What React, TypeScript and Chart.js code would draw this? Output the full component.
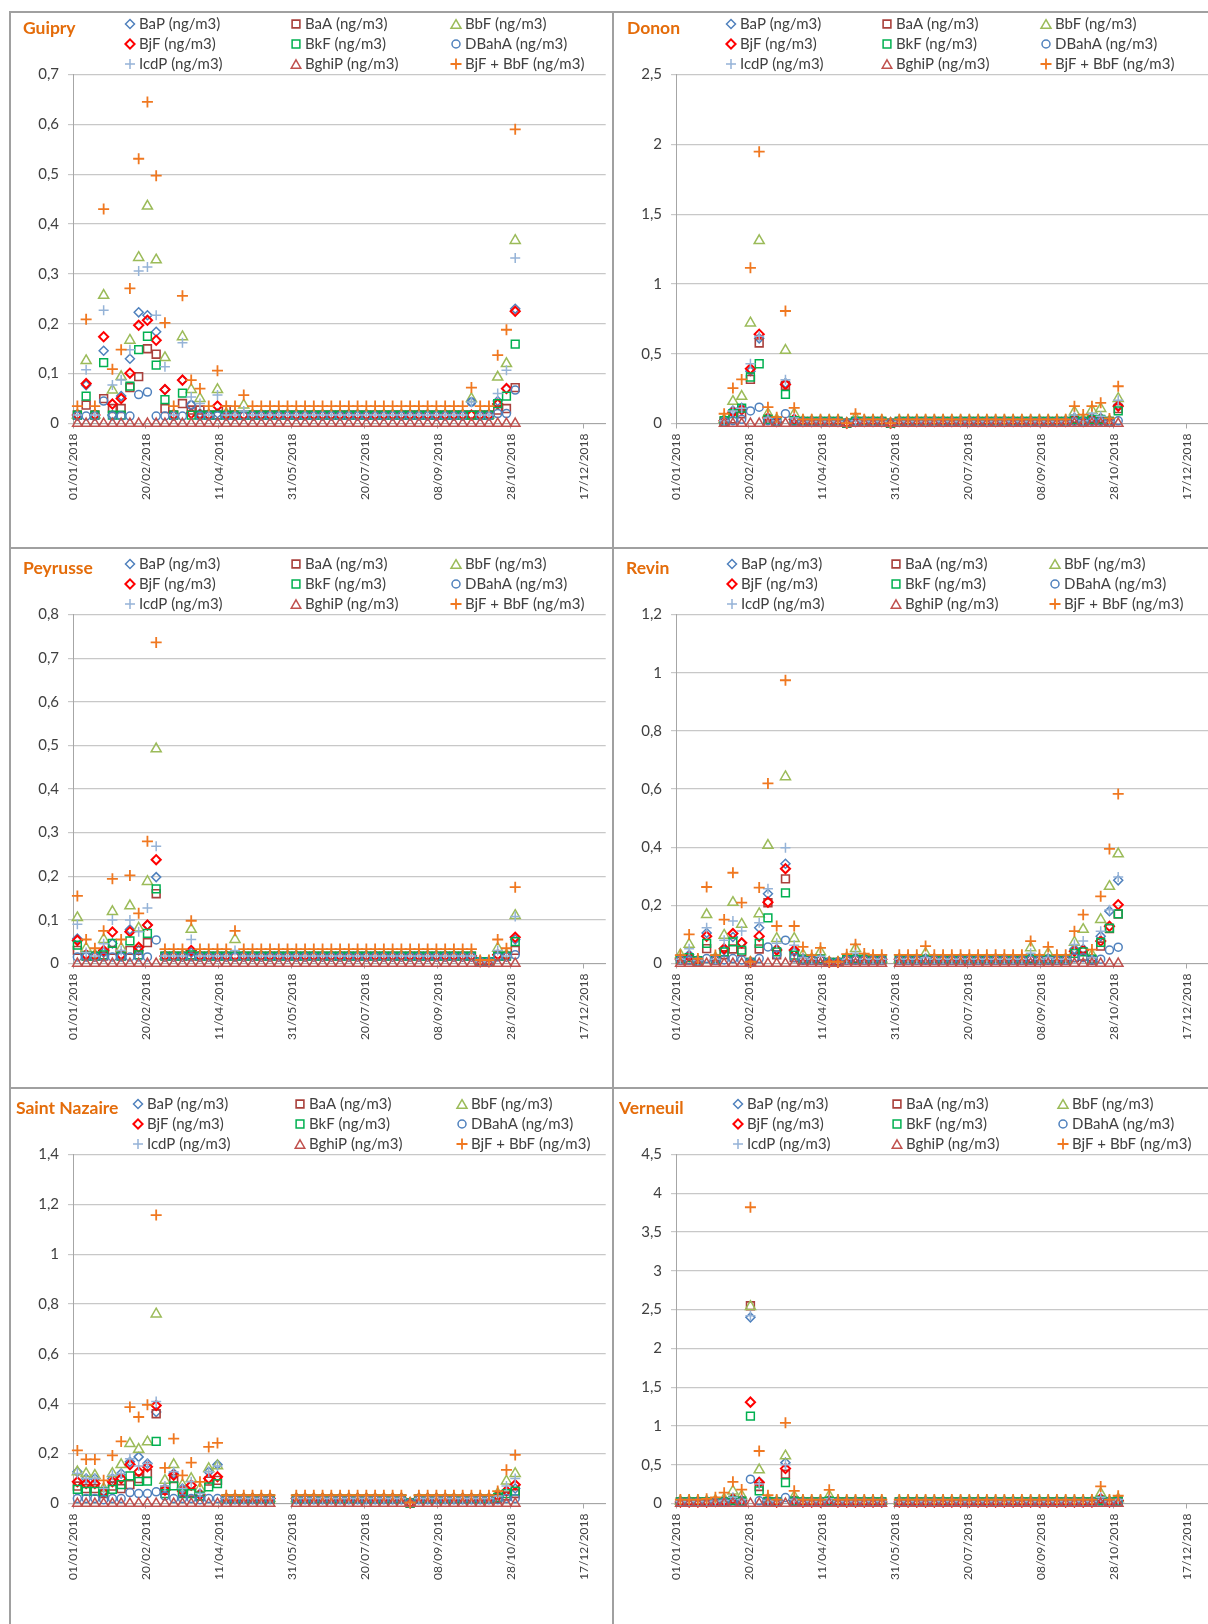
import React, { useEffect, useRef } from 'react';
import { Chart, registerables } from 'chart.js';

Chart.register(...registerables);

// ---------- categories / ticks ----------
const DAYS = [
  3, 9, 15, 21, 27, 33, 39, 45, 51, 57,
  63, 69, 75, 81, 87, 93, 99, 105, 111, 117,
  123, 129, 135, 141, 147, 153, 159, 165, 171, 177,
  183, 189, 195, 201, 207, 213, 219, 225, 231, 237,
  243, 249, 255, 261, 267, 273, 279, 285, 291, 297,
  303,
];
const TICK_DAYS = [0, 50, 100, 150, 200, 250, 300, 350];
const TICK_LABELS = ['01/01/2018', '20/02/2018', '11/04/2018', '31/05/2018', '20/07/2018', '08/09/2018', '28/10/2018', '17/12/2018'];
const SERIES_NAMES = ['BaP (ng/m3)', 'BaA (ng/m3)', 'BbF (ng/m3)', 'BjF (ng/m3)', 'BkF (ng/m3)', 'DBahA (ng/m3)', 'IcdP (ng/m3)', 'BghiP (ng/m3)', 'BjF + BbF (ng/m3)'];

// ---------- Guipry ----------
const guipryBaP = [
  0.017, 0.077, 0.017, 0.146, 0.017, 0.055, 0.13, 0.223, 0.217, 0.184,
  0.068, 0.017, 0.087, 0.037, 0.02, 0.017, 0.02, 0.017, 0.017, 0.017,
  0.017, 0.017, 0.017, 0.017, 0.017, 0.017, 0.017, 0.017, 0.017, 0.017,
  0.017, 0.017, 0.017, 0.017, 0.017, 0.017, 0.017, 0.017, 0.017, 0.017,
  0.017, 0.017, 0.017, 0.017, 0.017, 0.043, 0.017, 0.017, 0.045, 0.07,
  0.23];
const guipryBaA = [
  0.017, 0.037, 0.017, 0.05, 0.03, 0.03, 0.072, 0.094, 0.15, 0.139,
  0.03, 0.017, 0.04, 0.027, 0.027, 0.017, 0.017, 0.027, 0.017, 0.017,
  0.017, 0.017, 0.017, 0.017, 0.017, 0.017, 0.017, 0.017, 0.017, 0.017,
  0.017, 0.017, 0.017, 0.017, 0.017, 0.017, 0.017, 0.017, 0.017, 0.017,
  0.017, 0.017, 0.017, 0.017, 0.017, 0.017, 0.017, 0.017, 0.027, 0.03,
  0.072];
const guipryBbF = [
  0.017, 0.126, 0.017, 0.257, 0.067, 0.094, 0.167, 0.333, 0.436, 0.328,
  0.132, 0.017, 0.174, 0.068, 0.05, 0.017, 0.068, 0.02, 0.017, 0.037,
  0.017, 0.017, 0.017, 0.017, 0.017, 0.017, 0.017, 0.017, 0.017, 0.017,
  0.017, 0.017, 0.017, 0.017, 0.017, 0.017, 0.017, 0.017, 0.017, 0.017,
  0.017, 0.017, 0.017, 0.017, 0.017, 0.05, 0.017, 0.017, 0.093, 0.12,
  0.367];
const guipryBjF = [
  0.017, 0.08, 0.017, 0.174, 0.039, 0.05, 0.101, 0.197, 0.207, 0.167,
  0.068, 0.017, 0.087, 0.02, 0.017, 0.017, 0.035, 0.017, 0.017, 0.017,
  0.017, 0.017, 0.017, 0.017, 0.017, 0.017, 0.017, 0.017, 0.017, 0.017,
  0.017, 0.017, 0.017, 0.017, 0.017, 0.017, 0.017, 0.017, 0.017, 0.017,
  0.017, 0.017, 0.017, 0.017, 0.017, 0.017, 0.017, 0.017, 0.039, 0.07,
  0.225];
const guipryBkF = [
  0.017, 0.055, 0.017, 0.122, 0.017, 0.017, 0.075, 0.148, 0.175, 0.117,
  0.048, 0.017, 0.061, 0.017, 0.017, 0.017, 0.017, 0.017, 0.017, 0.017,
  0.017, 0.017, 0.017, 0.017, 0.017, 0.017, 0.017, 0.017, 0.017, 0.017,
  0.017, 0.017, 0.017, 0.017, 0.017, 0.017, 0.017, 0.017, 0.017, 0.017,
  0.017, 0.017, 0.017, 0.017, 0.017, 0.017, 0.017, 0.017, 0.04, 0.055,
  0.159];
const guipryDBahA = [
  0.015, 0.015, 0.015, 0.045, 0.015, 0.015, 0.015, 0.058, 0.063, 0.015,
  0.015, 0.015, 0.015, 0.037, 0.015, 0.015, 0.015, 0.015, 0.015, 0.015,
  0.015, 0.015, 0.015, 0.015, 0.015, 0.015, 0.015, 0.015, 0.015, 0.015,
  0.015, 0.015, 0.015, 0.015, 0.015, 0.015, 0.015, 0.015, 0.015, 0.015,
  0.015, 0.015, 0.015, 0.015, 0.015, 0.043, 0.015, 0.015, 0.02, 0.02,
  0.067];
const guipryIcdP = [
  0.017, 0.108, 0.017, 0.227, 0.077, 0.087, 0.148, 0.306, 0.314, 0.217,
  0.114, 0.017, 0.162, 0.053, 0.04, 0.017, 0.057, 0.017, 0.017, 0.025,
  0.017, 0.017, 0.017, 0.017, 0.017, 0.017, 0.017, 0.017, 0.017, 0.017,
  0.017, 0.017, 0.017, 0.017, 0.017, 0.017, 0.017, 0.017, 0.017, 0.017,
  0.017, 0.017, 0.017, 0.017, 0.017, 0.043, 0.017, 0.017, 0.06, 0.107,
  0.332];
const guipryBghiP = [
  0, 0, 0, 0, 0, 0, 0, 0, 0, 0,
  0, 0, 0, 0, 0, 0, 0, 0, 0, 0,
  0, 0, 0, 0, 0, 0, 0, 0, 0, 0,
  0, 0, 0, 0, 0, 0, 0, 0, 0, 0,
  0, 0, 0, 0, 0, 0, 0, 0, 0, 0,
  0];
const guipryBjFBbF = [
  0.035, 0.209, 0.035, 0.43, 0.109, 0.148, 0.271, 0.531, 0.645, 0.497,
  0.202, 0.035, 0.256, 0.087, 0.07, 0.035, 0.106, 0.035, 0.035, 0.057,
  0.035, 0.035, 0.035, 0.035, 0.035, 0.035, 0.035, 0.035, 0.035, 0.035,
  0.035, 0.035, 0.035, 0.035, 0.035, 0.035, 0.035, 0.035, 0.035, 0.035,
  0.035, 0.035, 0.035, 0.035, 0.035, 0.072, 0.035, 0.035, 0.137, 0.188,
  0.59];

// ---------- Donon ----------
const dononBaP = [
  null, null, null, null, null, 0.02, 0.093, 0.112, 0.375, 0.61,
  0.03, 0.015, 0.29, 0.03, 0.015, 0.015, 0.015, 0.015, 0.015, 0.002,
  0.015, 0.015, 0.015, 0.015, 0.002, 0.015, 0.015, 0.015, 0.015, 0.015,
  0.015, 0.015, 0.015, 0.015, 0.015, 0.015, 0.015, 0.015, 0.015, 0.015,
  0.015, 0.015, 0.015, 0.015, 0.015, 0.04, 0.015, 0.04, 0.04, 0.015,
  0.13];
const dononBaA = [
  null, null, null, null, null, 0.015, 0.033, 0.07, 0.316, 0.577,
  0.03, 0.015, 0.273, 0.02, 0.015, 0.015, 0.015, 0.015, 0.015, 0.002,
  0.015, 0.015, 0.015, 0.015, 0.002, 0.015, 0.015, 0.015, 0.015, 0.015,
  0.015, 0.015, 0.015, 0.015, 0.015, 0.015, 0.015, 0.015, 0.015, 0.015,
  0.015, 0.015, 0.015, 0.015, 0.015, 0.025, 0.015, 0.025, 0.025, 0.015,
  0.107];
const dononBbF = [
  null, null, null, null, null, 0.03, 0.158, 0.194, 0.72, 1.31,
  0.07, 0.03, 0.524, 0.07, 0.02, 0.02, 0.02, 0.02, 0.02, 0.002,
  0.04, 0.02, 0.02, 0.02, 0.002, 0.02, 0.02, 0.02, 0.02, 0.02,
  0.02, 0.02, 0.02, 0.02, 0.02, 0.02, 0.02, 0.02, 0.02, 0.02,
  0.02, 0.02, 0.02, 0.02, 0.02, 0.083, 0.03, 0.095, 0.107, 0.02,
  0.179];
const dononBjF = [
  null, null, null, null, null, 0.02, 0.081, 0.098, 0.392, 0.64,
  0.04, 0.015, 0.28, 0.03, 0.015, 0.015, 0.015, 0.015, 0.015, 0.002,
  0.015, 0.015, 0.015, 0.015, 0.002, 0.015, 0.015, 0.015, 0.015, 0.015,
  0.015, 0.015, 0.015, 0.015, 0.015, 0.015, 0.015, 0.015, 0.015, 0.015,
  0.015, 0.015, 0.015, 0.015, 0.015, 0.03, 0.015, 0.03, 0.03, 0.015,
  0.124];
const dononBkF = [
  null, null, null, null, null, 0.02, 0.07, 0.11, 0.333, 0.428,
  0.03, 0.015, 0.208, 0.02, 0.015, 0.015, 0.015, 0.015, 0.015, 0.002,
  0.015, 0.015, 0.015, 0.015, 0.002, 0.015, 0.015, 0.015, 0.015, 0.015,
  0.015, 0.015, 0.015, 0.015, 0.015, 0.015, 0.015, 0.015, 0.015, 0.015,
  0.015, 0.015, 0.015, 0.015, 0.015, 0.03, 0.015, 0.03, 0.03, 0.015,
  0.09];
const dononDBahA = [
  null, null, null, null, null, 0.015, 0.02, 0.03, 0.09, 0.117,
  0.02, 0.015, 0.07, 0.015, 0.012, 0.012, 0.012, 0.012, 0.012, 0.002,
  0.012, 0.012, 0.012, 0.012, 0.002, 0.012, 0.012, 0.012, 0.012, 0.012,
  0.012, 0.012, 0.012, 0.012, 0.012, 0.012, 0.012, 0.012, 0.012, 0.012,
  0.012, 0.012, 0.012, 0.012, 0.012, 0.015, 0.012, 0.015, 0.015, 0.012,
  0.019];
const dononIcdP = [
  null, null, null, null, null, 0.02, 0.09, 0.11, 0.428, 0.625,
  0.04, 0.02, 0.313, 0.04, 0.015, 0.015, 0.015, 0.015, 0.015, 0.002,
  0.02, 0.015, 0.015, 0.015, 0.002, 0.015, 0.015, 0.015, 0.015, 0.015,
  0.015, 0.015, 0.015, 0.015, 0.015, 0.015, 0.015, 0.015, 0.015, 0.015,
  0.015, 0.015, 0.015, 0.015, 0.015, 0.06, 0.02, 0.071, 0.052, 0.015,
  0.167];
const dononBghiP = [
  null, null, null, null, null, 0, 0, 0, 0, 0,
  0, 0, 0, 0, 0, 0, 0, 0, 0, 0,
  0, 0, 0, 0, 0, 0, 0, 0, 0, 0,
  0, 0, 0, 0, 0, 0, 0, 0, 0, 0,
  0, 0, 0, 0, 0, 0, 0, 0, 0, 0,
  0];
const dononBjFBbF = [
  null, null, null, null, null, 0.07, 0.254, 0.316, 1.115, 1.947,
  0.117, 0.045, 0.806, 0.112, 0.03, 0.03, 0.03, 0.03, 0.03, 0.003,
  0.07, 0.03, 0.03, 0.03, 0.003, 0.03, 0.03, 0.03, 0.03, 0.03,
  0.03, 0.03, 0.03, 0.03, 0.03, 0.03, 0.03, 0.03, 0.03, 0.03,
  0.03, 0.03, 0.03, 0.03, 0.03, 0.124, 0.064, 0.124, 0.148, 0.036,
  0.267];

// ---------- Peyrusse ----------
const peyrusseBaP = [
  0.057, 0.017, 0.017, 0.025, 0.046, 0.017, 0.078, 0.03, 0.088, 0.198,
  0.017, 0.017, 0.017, 0.025, 0.017, 0.017, 0.017, 0.017, 0.017, 0.017,
  0.017, 0.017, 0.017, 0.017, 0.017, 0.017, 0.017, 0.017, 0.017, 0.017,
  0.017, 0.017, 0.017, 0.017, 0.017, 0.017, 0.017, 0.017, 0.017, 0.017,
  0.017, 0.017, 0.017, 0.017, 0.017, 0.017, 0.004, 0.004, 0.02, 0.017,
  0.055];
const peyrusseBaA = [
  0.03, 0.017, 0.017, 0.017, 0.03, 0.017, 0.03, 0.03, 0.048, 0.16,
  0.017, 0.017, 0.017, 0.017, 0.017, 0.017, 0.017, 0.017, 0.017, 0.017,
  0.017, 0.017, 0.017, 0.017, 0.017, 0.017, 0.017, 0.017, 0.017, 0.017,
  0.017, 0.017, 0.017, 0.017, 0.017, 0.017, 0.017, 0.017, 0.017, 0.017,
  0.017, 0.017, 0.017, 0.017, 0.017, 0.017, 0.004, 0.004, 0.017, 0.017,
  0.03];
const peyrusseBbF = [
  0.105, 0.035, 0.02, 0.055, 0.119, 0.035, 0.132, 0.081, 0.188, 0.492,
  0.017, 0.017, 0.017, 0.078, 0.017, 0.017, 0.017, 0.017, 0.055, 0.017,
  0.017, 0.017, 0.017, 0.017, 0.017, 0.017, 0.017, 0.017, 0.017, 0.017,
  0.017, 0.017, 0.017, 0.017, 0.017, 0.017, 0.017, 0.017, 0.017, 0.017,
  0.017, 0.017, 0.017, 0.017, 0.017, 0.017, 0.004, 0.004, 0.035, 0.02,
  0.11];
const peyrusseBjF = [
  0.053, 0.02, 0.017, 0.03, 0.072, 0.02, 0.073, 0.037, 0.088, 0.238,
  0.017, 0.017, 0.017, 0.03, 0.017, 0.017, 0.017, 0.017, 0.017, 0.017,
  0.017, 0.017, 0.017, 0.017, 0.017, 0.017, 0.017, 0.017, 0.017, 0.017,
  0.017, 0.017, 0.017, 0.017, 0.017, 0.017, 0.017, 0.017, 0.017, 0.017,
  0.017, 0.017, 0.017, 0.017, 0.017, 0.017, 0.004, 0.004, 0.02, 0.017,
  0.06];
const peyrusseBkF = [
  0.042, 0.017, 0.017, 0.02, 0.046, 0.017, 0.052, 0.02, 0.069, 0.171,
  0.017, 0.017, 0.017, 0.02, 0.017, 0.017, 0.017, 0.017, 0.017, 0.017,
  0.017, 0.017, 0.017, 0.017, 0.017, 0.017, 0.017, 0.017, 0.017, 0.017,
  0.017, 0.017, 0.017, 0.017, 0.017, 0.017, 0.017, 0.017, 0.017, 0.017,
  0.017, 0.017, 0.017, 0.017, 0.017, 0.017, 0.004, 0.004, 0.017, 0.017,
  0.05];
const peyrusseDBahA = [
  0.015, 0.015, 0.015, 0.015, 0.015, 0.015, 0.015, 0.015, 0.015, 0.054,
  0.015, 0.015, 0.015, 0.015, 0.015, 0.015, 0.015, 0.015, 0.015, 0.015,
  0.015, 0.015, 0.015, 0.015, 0.015, 0.015, 0.015, 0.015, 0.015, 0.015,
  0.015, 0.015, 0.015, 0.015, 0.015, 0.015, 0.015, 0.015, 0.015, 0.015,
  0.015, 0.015, 0.015, 0.015, 0.015, 0.015, 0.004, 0.004, 0.015, 0.015,
  0.02];
const peyrusseIcdP = [
  0.09, 0.025, 0.017, 0.045, 0.1, 0.03, 0.1, 0.073, 0.127, 0.269,
  0.017, 0.017, 0.017, 0.055, 0.017, 0.017, 0.017, 0.017, 0.03, 0.017,
  0.017, 0.017, 0.017, 0.017, 0.017, 0.017, 0.017, 0.017, 0.017, 0.017,
  0.017, 0.017, 0.017, 0.017, 0.017, 0.017, 0.017, 0.017, 0.017, 0.017,
  0.017, 0.017, 0.017, 0.017, 0.017, 0.017, 0.004, 0.004, 0.03, 0.017,
  0.108];
const peyrusseBghiP = [
  0, 0, 0, 0, 0, 0, 0, 0, 0, 0,
  0, 0, 0, 0, 0, 0, 0, 0, 0, 0,
  0, 0, 0, 0, 0, 0, 0, 0, 0, 0,
  0, 0, 0, 0, 0, 0, 0, 0, 0, 0,
  0, 0, 0, 0, 0, 0, 0, 0, 0, 0,
  0];
const peyrusseBjFBbF = [
  0.155, 0.055, 0.035, 0.075, 0.194, 0.055, 0.202, 0.115, 0.28, 0.736,
  0.033, 0.033, 0.033, 0.098, 0.033, 0.033, 0.033, 0.033, 0.075, 0.033,
  0.033, 0.033, 0.033, 0.033, 0.033, 0.033, 0.033, 0.033, 0.033, 0.033,
  0.033, 0.033, 0.033, 0.033, 0.033, 0.033, 0.033, 0.033, 0.033, 0.033,
  0.033, 0.033, 0.033, 0.033, 0.033, 0.033, 0.008, 0.008, 0.055, 0.035,
  0.175];

// ---------- Revin ----------
const revinBaP = [
  0.015, 0.03, 0.01, 0.105, 0.015, 0.046, 0.091, 0.07, 0.004, 0.123,
  0.24, 0.05, 0.343, 0.04, 0.015, 0.015, 0.015, 0.004, 0.004, 0.015,
  0.02, 0.015, 0.015, 0.015, null, 0.015, 0.015, 0.015, 0.015, 0.015,
  0.015, 0.015, 0.015, 0.015, 0.015, 0.015, 0.015, 0.015, 0.015, 0.015,
  0.02, 0.015, 0.015, 0.015, 0.015, 0.05, 0.05, 0.015, 0.094, 0.18,
  0.286];
const revinBaA = [
  0.012, 0.012, 0.008, 0.051, 0.012, 0.03, 0.05, 0.04, 0.004, 0.05,
  0.209, 0.03, 0.291, 0.02, 0.012, 0.012, 0.012, 0.004, 0.004, 0.012,
  0.012, 0.012, 0.012, 0.012, null, 0.012, 0.012, 0.012, 0.012, 0.012,
  0.012, 0.012, 0.012, 0.012, 0.012, 0.012, 0.012, 0.012, 0.012, 0.012,
  0.012, 0.012, 0.012, 0.012, 0.012, 0.02, 0.025, 0.012, 0.06, 0.12,
  0.17];
const revinBbF = [
  0.03, 0.066, 0.01, 0.168, 0.02, 0.097, 0.21, 0.135, 0.004, 0.171,
  0.406, 0.086, 0.642, 0.086, 0.03, 0.017, 0.04, 0.004, 0.004, 0.02,
  0.051, 0.02, 0.015, 0.015, null, 0.015, 0.015, 0.015, 0.035, 0.015,
  0.015, 0.015, 0.015, 0.015, 0.015, 0.015, 0.015, 0.015, 0.015, 0.015,
  0.054, 0.015, 0.035, 0.015, 0.015, 0.073, 0.117, 0.03, 0.151, 0.265,
  0.377];
const revinBjF = [
  0.015, 0.023, 0.01, 0.094, 0.015, 0.051, 0.103, 0.071, 0.004, 0.094,
  0.211, 0.046, 0.326, 0.046, 0.015, 0.015, 0.015, 0.004, 0.004, 0.015,
  0.015, 0.015, 0.015, 0.015, null, 0.015, 0.015, 0.015, 0.015, 0.015,
  0.015, 0.015, 0.015, 0.015, 0.015, 0.015, 0.015, 0.015, 0.015, 0.015,
  0.015, 0.015, 0.015, 0.015, 0.015, 0.042, 0.045, 0.015, 0.077, 0.128,
  0.202];
const revinBkF = [
  0.015, 0.02, 0.01, 0.069, 0.015, 0.04, 0.074, 0.046, 0.004, 0.069,
  0.157, 0.04, 0.243, 0.029, 0.015, 0.015, 0.015, 0.004, 0.004, 0.015,
  0.015, 0.015, 0.015, 0.015, null, 0.015, 0.015, 0.015, 0.015, 0.015,
  0.015, 0.015, 0.015, 0.015, 0.015, 0.015, 0.015, 0.015, 0.015, 0.015,
  0.015, 0.015, 0.015, 0.015, 0.015, 0.035, 0.04, 0.015, 0.073, 0.122,
  0.171];
const revinDBahA = [
  0.012, 0.012, 0.008, 0.017, 0.012, 0.012, 0.017, 0.012, 0.004, 0.017,
  0.057, 0.03, 0.08, 0.02, 0.012, 0.012, 0.012, 0.004, 0.004, 0.012,
  0.012, 0.012, 0.012, 0.012, null, 0.012, 0.012, 0.012, 0.012, 0.012,
  0.012, 0.012, 0.012, 0.012, 0.012, 0.012, 0.012, 0.012, 0.012, 0.012,
  0.012, 0.012, 0.012, 0.012, 0.012, 0.02, 0.02, 0.012, 0.015, 0.046,
  0.056];
const revinIcdP = [
  0.015, 0.051, 0.01, 0.123, 0.015, 0.08, 0.146, 0.112, 0.004, 0.14,
  0.257, 0.07, 0.398, 0.063, 0.02, 0.015, 0.025, 0.004, 0.004, 0.015,
  0.035, 0.015, 0.015, 0.015, null, 0.015, 0.015, 0.015, 0.02, 0.015,
  0.015, 0.015, 0.015, 0.015, 0.015, 0.015, 0.015, 0.015, 0.015, 0.015,
  0.035, 0.015, 0.02, 0.015, 0.015, 0.065, 0.077, 0.02, 0.111, 0.185,
  0.297];
const revinBghiP = [
  0, 0, 0, 0, 0, 0, 0, 0, 0, 0,
  0, 0, 0, 0, 0, 0, 0, 0, 0, 0,
  0, 0, 0, 0, null, 0, 0, 0, 0, 0,
  0, 0, 0, 0, 0, 0, 0, 0, 0, 0,
  0, 0, 0, 0, 0, 0, 0, 0, 0, 0,
  0];
const revinBjFBbF = [
  0.029, 0.1, 0.017, 0.263, 0.029, 0.151, 0.312, 0.209, 0.006, 0.261,
  0.619, 0.129, 0.974, 0.129, 0.057, 0.029, 0.054, 0.006, 0.006, 0.032,
  0.066, 0.034, 0.03, 0.03, null, 0.03, 0.03, 0.03, 0.06, 0.03,
  0.03, 0.03, 0.03, 0.03, 0.03, 0.03, 0.03, 0.03, 0.03, 0.03,
  0.077, 0.03, 0.057, 0.03, 0.03, 0.111, 0.168, 0.048, 0.231, 0.394,
  0.583];

// ---------- Saint Nazaire ----------
const nazaireBaP = [
  0.127, 0.1, 0.1, 0.05, 0.1, 0.12, 0.167, 0.187, 0.16, 0.367,
  0.06, 0.12, 0.06, 0.073, 0.04, 0.127, 0.156, 0.02, 0.02, 0.02,
  0.02, 0.02, 0.02, null, null, 0.02, 0.02, 0.02, 0.02, 0.02,
  0.02, 0.02, 0.02, 0.02, 0.02, 0.02, 0.02, 0.02, 0.002, 0.02,
  0.02, 0.02, 0.02, 0.02, 0.02, 0.02, 0.02, 0.02, 0.03, 0.05,
  0.06];
const nazaireBaA = [
  0.07, 0.06, 0.06, 0.04, 0.07, 0.06, 0.076, 0.1, 0.12, 0.36,
  0.053, 0.1, 0.045, 0.045, 0.03, 0.09, 0.093, 0.018, 0.018, 0.018,
  0.018, 0.018, 0.018, null, null, 0.018, 0.018, 0.018, 0.018, 0.018,
  0.018, 0.018, 0.018, 0.018, 0.018, 0.018, 0.018, 0.018, 0.002, 0.018,
  0.018, 0.018, 0.018, 0.018, 0.018, 0.018, 0.018, 0.018, 0.02, 0.03,
  0.04];
const nazaireBbF = [
  0.127, 0.12, 0.113, 0.06, 0.12, 0.156, 0.24, 0.217, 0.247, 0.76,
  0.093, 0.156, 0.075, 0.1, 0.06, 0.14, 0.151, 0.02, 0.02, 0.02,
  0.02, 0.02, 0.02, null, null, 0.02, 0.02, 0.02, 0.02, 0.02,
  0.02, 0.02, 0.02, 0.02, 0.02, 0.02, 0.02, 0.02, 0.002, 0.02,
  0.02, 0.02, 0.02, 0.02, 0.02, 0.02, 0.02, 0.02, 0.04, 0.09,
  0.12];
const nazaireBjF = [
  0.087, 0.08, 0.08, 0.045, 0.087, 0.1, 0.156, 0.127, 0.147, 0.393,
  0.053, 0.113, 0.05, 0.073, 0.035, 0.1, 0.107, 0.02, 0.02, 0.02,
  0.02, 0.02, 0.02, null, null, 0.02, 0.02, 0.02, 0.02, 0.02,
  0.02, 0.02, 0.02, 0.02, 0.02, 0.02, 0.02, 0.02, 0.002, 0.02,
  0.02, 0.02, 0.02, 0.02, 0.02, 0.02, 0.02, 0.02, 0.03, 0.05,
  0.075];
const nazaireBkF = [
  0.057, 0.049, 0.049, 0.047, 0.057, 0.076, 0.111, 0.089, 0.09, 0.249,
  0.04, 0.071, 0.04, 0.04, 0.03, 0.067, 0.08, 0.018, 0.018, 0.018,
  0.018, 0.018, 0.018, null, null, 0.018, 0.018, 0.018, 0.018, 0.018,
  0.018, 0.018, 0.018, 0.018, 0.018, 0.018, 0.018, 0.018, 0.002, 0.018,
  0.018, 0.018, 0.018, 0.018, 0.018, 0.018, 0.018, 0.018, 0.025, 0.04,
  0.05];
const nazaireDBahA = [
  0.02, 0.02, 0.02, 0.015, 0.02, 0.02, 0.044, 0.04, 0.04, 0.047,
  0.03, 0.02, 0.02, 0.02, 0.015, 0.02, 0.02, 0.015, 0.015, 0.015,
  0.015, 0.015, 0.015, null, null, 0.015, 0.015, 0.015, 0.015, 0.015,
  0.015, 0.015, 0.015, 0.015, 0.015, 0.015, 0.015, 0.015, 0.002, 0.015,
  0.015, 0.015, 0.015, 0.015, 0.015, 0.015, 0.015, 0.015, 0.015, 0.02,
  0.02];
const nazaireIcdP = [
  0.12, 0.1, 0.1, 0.06, 0.113, 0.12, 0.18, 0.15, 0.16, 0.409,
  0.07, 0.127, 0.06, 0.087, 0.04, 0.127, 0.15, 0.02, 0.02, 0.02,
  0.02, 0.02, 0.02, null, null, 0.02, 0.02, 0.02, 0.02, 0.02,
  0.02, 0.02, 0.02, 0.02, 0.02, 0.02, 0.02, 0.02, 0.002, 0.02,
  0.02, 0.02, 0.02, 0.02, 0.02, 0.02, 0.02, 0.02, 0.03, 0.07,
  0.1];
const nazaireBghiP = [
  0, 0, 0, 0, 0, 0, 0, 0, 0, 0,
  0, 0, 0, 0, 0, 0, 0, 0, 0, 0,
  0, 0, 0, null, null, 0, 0, 0, 0, 0,
  0, 0, 0, 0, 0, 0, 0, 0, 0, 0,
  0, 0, 0, 0, 0, 0, 0, 0, 0, 0,
  0];
const nazaireBjFBbF = [
  0.213, 0.177, 0.177, 0.093, 0.193, 0.249, 0.387, 0.347, 0.396, 1.157,
  0.143, 0.26, 0.113, 0.164, 0.087, 0.227, 0.243, 0.033, 0.033, 0.033,
  0.033, 0.033, 0.033, null, null, 0.033, 0.033, 0.033, 0.033, 0.033,
  0.033, 0.033, 0.033, 0.033, 0.033, 0.033, 0.033, 0.033, 0.004, 0.033,
  0.033, 0.033, 0.033, 0.033, 0.033, 0.033, 0.033, 0.033, 0.05, 0.135,
  0.195];

// ---------- Verneuil ----------
const verneuilBaP = [
  0.02, 0.02, 0.02, 0.02, 0.025, 0.03, 0.06, 0.04, 2.4, 0.28,
  0.04, 0.02, 0.527, 0.04, 0.02, 0.02, 0.02, 0.04, 0.02, 0.02,
  0.02, 0.02, 0.02, 0.02, null, 0.02, 0.02, 0.02, 0.02, 0.02,
  0.02, 0.02, 0.02, 0.02, 0.02, 0.02, 0.02, 0.02, 0.02, 0.02,
  0.02, 0.02, 0.02, 0.02, 0.02, 0.02, 0.02, 0.02, 0.06, 0.02,
  0.04];
const verneuilBaA = [
  0.02, 0.02, 0.02, 0.02, 0.02, 0.02, 0.04, 0.03, 2.55, 0.22,
  0.025, 0.02, 0.377, 0.03, 0.02, 0.02, 0.02, 0.025, 0.02, 0.02,
  0.02, 0.02, 0.02, 0.02, null, 0.02, 0.02, 0.02, 0.02, 0.02,
  0.02, 0.02, 0.02, 0.02, 0.02, 0.02, 0.02, 0.02, 0.02, 0.02,
  0.02, 0.02, 0.02, 0.02, 0.02, 0.02, 0.02, 0.02, 0.04, 0.02,
  0.03];
const verneuilBbF = [
  0.03, 0.03, 0.03, 0.03, 0.04, 0.06, 0.16, 0.1, 2.54, 0.433,
  0.06, 0.03, 0.613, 0.09, 0.03, 0.03, 0.03, 0.1, 0.03, 0.03,
  0.03, 0.03, 0.03, 0.03, null, 0.03, 0.03, 0.03, 0.03, 0.03,
  0.03, 0.03, 0.03, 0.03, 0.03, 0.03, 0.03, 0.03, 0.03, 0.03,
  0.03, 0.03, 0.03, 0.03, 0.03, 0.03, 0.03, 0.03, 0.13, 0.03,
  0.06];
const verneuilBjF = [
  0.02, 0.02, 0.02, 0.02, 0.025, 0.03, 0.06, 0.04, 1.307, 0.27,
  0.03, 0.02, 0.45, 0.04, 0.02, 0.02, 0.02, 0.04, 0.02, 0.02,
  0.02, 0.02, 0.02, 0.02, null, 0.02, 0.02, 0.02, 0.02, 0.02,
  0.02, 0.02, 0.02, 0.02, 0.02, 0.02, 0.02, 0.02, 0.02, 0.02,
  0.02, 0.02, 0.02, 0.02, 0.02, 0.02, 0.02, 0.02, 0.06, 0.02,
  0.04];
const verneuilBkF = [
  0.02, 0.02, 0.02, 0.02, 0.02, 0.02, 0.04, 0.03, 1.127, 0.163,
  0.025, 0.02, 0.27, 0.03, 0.02, 0.02, 0.02, 0.03, 0.02, 0.02,
  0.02, 0.02, 0.02, 0.02, null, 0.02, 0.02, 0.02, 0.02, 0.02,
  0.02, 0.02, 0.02, 0.02, 0.02, 0.02, 0.02, 0.02, 0.02, 0.02,
  0.02, 0.02, 0.02, 0.02, 0.02, 0.02, 0.02, 0.02, 0.04, 0.02,
  0.03];
const verneuilDBahA = [
  0.015, 0.015, 0.015, 0.015, 0.015, 0.015, 0.015, 0.015, 0.313, 0.035,
  0.015, 0.015, 0.077, 0.015, 0.015, 0.015, 0.015, 0.015, 0.015, 0.015,
  0.015, 0.015, 0.015, 0.015, null, 0.015, 0.015, 0.015, 0.015, 0.015,
  0.015, 0.015, 0.015, 0.015, 0.015, 0.015, 0.015, 0.015, 0.015, 0.015,
  0.015, 0.015, 0.015, 0.015, 0.015, 0.015, 0.015, 0.015, 0.02, 0.015,
  0.015];
const verneuilIcdP = [
  0.025, 0.025, 0.025, 0.025, 0.03, 0.04, 0.08, 0.05, 2.42, 0.25,
  0.04, 0.025, 0.5, 0.05, 0.025, 0.025, 0.025, 0.06, 0.025, 0.025,
  0.025, 0.025, 0.025, 0.025, null, 0.025, 0.025, 0.025, 0.025, 0.025,
  0.025, 0.025, 0.025, 0.025, 0.025, 0.025, 0.025, 0.025, 0.025, 0.025,
  0.025, 0.025, 0.025, 0.025, 0.025, 0.025, 0.025, 0.025, 0.08, 0.025,
  0.05];
const verneuilBghiP = [
  0, 0, 0, 0, 0, 0, 0, 0, 0, 0,
  0, 0, 0, 0, 0, 0, 0, 0, 0, 0,
  0, 0, 0, 0, null, 0, 0, 0, 0, 0,
  0, 0, 0, 0, 0, 0, 0, 0, 0, 0,
  0, 0, 0, 0, 0, 0, 0, 0, 0, 0,
  0];
const verneuilBjFBbF = [
  0.05, 0.05, 0.05, 0.06, 0.08, 0.14, 0.28, 0.18, 3.82, 0.677,
  0.107, 0.05, 1.04, 0.163, 0.05, 0.05, 0.05, 0.176, 0.05, 0.05,
  0.05, 0.05, 0.05, 0.05, null, 0.05, 0.05, 0.05, 0.05, 0.05,
  0.05, 0.05, 0.05, 0.05, 0.05, 0.05, 0.05, 0.05, 0.05, 0.05,
  0.05, 0.05, 0.05, 0.05, 0.05, 0.05, 0.05, 0.05, 0.22, 0.05,
  0.1];

const STATION_NAMES = ['Guipry', 'Donon', 'Peyrusse', 'Revin', 'Saint Nazaire', 'Verneuil'];
const Y_MAX = [0.7, 2.5, 0.8, 1.2, 1.4, 4.5];
const Y_STEP = [0.1, 0.5, 0.1, 0.2, 0.2, 0.5];
const STATION_SERIES = [
  [guipryBaP, guipryBaA, guipryBbF, guipryBjF, guipryBkF, guipryDBahA, guipryIcdP, guipryBghiP, guipryBjFBbF],
  [dononBaP, dononBaA, dononBbF, dononBjF, dononBkF, dononDBahA, dononIcdP, dononBghiP, dononBjFBbF],
  [peyrusseBaP, peyrusseBaA, peyrusseBbF, peyrusseBjF, peyrusseBkF, peyrusseDBahA, peyrusseIcdP, peyrusseBghiP, peyrusseBjFBbF],
  [revinBaP, revinBaA, revinBbF, revinBjF, revinBkF, revinDBahA, revinIcdP, revinBghiP, revinBjFBbF],
  [nazaireBaP, nazaireBaA, nazaireBbF, nazaireBjF, nazaireBkF, nazaireDBahA, nazaireIcdP, nazaireBghiP, nazaireBjFBbF],
  [verneuilBaP, verneuilBaA, verneuilBbF, verneuilBjF, verneuilBkF, verneuilDBahA, verneuilIcdP, verneuilBghiP, verneuilBjFBbF],
];

// ---------- styles / layout ----------
const MARKERS = [
  { style: 'rectRot', color: '#4F81BD', r: 4.5, w: 1.5 },
  { style: 'rect', color: '#A9403C', r: 5.5, w: 1.6 },
  { style: 'triangle', color: '#9BBB59', r: 5.8, w: 1.5 },
  { style: 'rectRot', color: '#FF0000', r: 4.6, w: 2 },
  { style: 'rect', color: '#00B050', r: 5.5, w: 1.5 },
  { style: 'circle', color: '#4F81BD', r: 4, w: 1.5 },
  { style: 'cross', color: '#95B3D7', r: 5, w: 1.5 },
  { style: 'triangle', color: '#C0504D', r: 5.5, w: 1.5 },
  { style: 'cross', color: '#F07820', r: 5.5, w: 1.8 },
];

const PANEL_W = 603;
const PANEL_H = 540;
const PANELS = [
  { left: 10, top: 12, titleX: 13, legendX: [120, 286, 446] },
  { left: 613, top: 12, titleX: 14, legendX: [118, 274, 433] },
  { left: 10, top: 552, titleX: 13, legendX: [120, 286, 446] },
  { left: 613, top: 552, titleX: 13, legendX: [119, 283, 442] },
  { left: 10, top: 1092, titleX: 6, legendX: [128, 290, 452] },
  { left: 613, top: 1092, titleX: 6, legendX: [125, 284, 450] },
];
const LEGEND_ROWS = [12, 32, 52];
const TITLE_Y = 16;
const TEXT_COLOR = '#404040';
const FONT = 'Lato';

function drawMarker(ctx: CanvasRenderingContext2D, m: any, x: number, y: number) {
  const r = m.r;
  ctx.save();
  ctx.strokeStyle = m.color;
  ctx.lineWidth = m.w;
  ctx.beginPath();
  if (m.style === 'rectRot') {
    ctx.moveTo(x - r, y);
    ctx.lineTo(x, y - r);
    ctx.lineTo(x + r, y);
    ctx.lineTo(x, y + r);
    ctx.closePath();
  } else if (m.style === 'rect') {
    const s = r * Math.SQRT1_2;
    ctx.rect(x - s, y - s, 2 * s, 2 * s);
  } else if (m.style === 'triangle') {
    const yc = y + r * 0.25;
    ctx.moveTo(x, yc - r);
    ctx.lineTo(x + r * 0.866, yc + r * 0.5);
    ctx.lineTo(x - r * 0.866, yc + r * 0.5);
    ctx.closePath();
  } else if (m.style === 'circle') {
    ctx.arc(x, y, r, 0, Math.PI * 2);
  } else {
    ctx.moveTo(x - r, y);
    ctx.lineTo(x + r, y);
    ctx.moveTo(x, y - r);
    ctx.lineTo(x, y + r);
  }
  ctx.stroke();
  ctx.restore();
}

function fmt(v: number) {
  const r = Math.round(Number(v) * 10) / 10;
  return String(r).replace('.', ',');
}

function Panel({ idx }: { idx: number }) {
  const ref = useRef<HTMLCanvasElement>(null);
  const lay = PANELS[idx];
  useEffect(() => {
    const canvas = ref.current;
    if (!canvas) return;
    const values = STATION_SERIES[idx];
    const datasets = SERIES_NAMES.map((name, i) => ({
      label: name,
      data: DAYS.map((d, k) => ({ x: d, y: values[i][k] })),
      pointStyle: MARKERS[i].style,
      pointRadius: MARKERS[i].r,
      pointHoverRadius: MARKERS[i].r,
      pointBorderWidth: MARKERS[i].w,
      pointBorderColor: MARKERS[i].color,
      pointBackgroundColor: 'rgba(0,0,0,0)',
      showLine: false,
      clip: false,
      order: SERIES_NAMES.length - i,
    }));
    const overlay = {
      id: 'overlay' + idx,
      afterDraw(chart: any) {
        const ctx: CanvasRenderingContext2D = chart.ctx;
        ctx.save();
        ctx.textBaseline = 'middle';
        ctx.textAlign = 'left';
        ctx.font = `bold 17.5px ${FONT}`;
        ctx.fillStyle = '#E46C0A';
        ctx.fillText(STATION_NAMES[idx], lay.titleX, TITLE_Y);
        ctx.font = `15px ${FONT}`;
        SERIES_NAMES.forEach((name, i) => {
          const col = i % 3;
          const row = Math.floor(i / 3);
          const x = lay.legendX[col];
          const y = LEGEND_ROWS[row];
          drawMarker(ctx, MARKERS[i], x, y);
          ctx.fillStyle = TEXT_COLOR;
          ctx.fillText(name, x + 9, y + 0.5);
        });
        ctx.restore();
      },
    };
    const chart = new Chart(canvas, {
      type: 'scatter',
      data: { datasets } as any,
      options: {
        animation: false,
        responsive: false,
        maintainAspectRatio: false,
        events: [],
        layout: { padding: { top: 62.5, right: 5, left: 0, bottom: 0 } },
        plugins: { legend: { display: false }, title: { display: false }, tooltip: { enabled: false } },
        scales: {
          x: {
            type: 'linear',
            min: 0,
            max: 365,
            afterBuildTicks: (s: any) => {
              s.ticks = TICK_DAYS.map((v) => ({ value: v }));
            },
            afterFit: (s: any) => {
              s.height = PANEL_H - 411.5;
            },
            ticks: {
              autoSkip: false,
              minRotation: 90,
              maxRotation: 90,
              padding: 5,
              color: TEXT_COLOR,
              font: { family: FONT, size: 12 },
              callback: (v: any) => {
                const i = TICK_DAYS.indexOf(Number(v));
                return i >= 0 ? TICK_LABELS[i] : '';
              },
            },
            grid: { drawOnChartArea: false, drawTicks: true, tickLength: 5, color: '#a6a6a6' },
            border: { color: '#a6a6a6', width: 1 },
          },
          y: {
            type: 'linear',
            min: 0,
            max: Y_MAX[idx],
            afterFit: (s: any) => {
              s.width = 63;
            },
            ticks: {
              stepSize: Y_STEP[idx],
              padding: 9,
              color: TEXT_COLOR,
              font: { family: FONT, size: 15 },
              callback: (v: any) => fmt(v),
            },
            grid: { color: '#c8c8c8', tickLength: 5, drawTicks: true, lineWidth: 1.2 },
            border: { color: '#a6a6a6', width: 1 },
          },
        },
      } as any,
      plugins: [overlay],
    });
    return () => chart.destroy();
  }, [idx]);
  return (
    <canvas
      ref={ref}
      width={PANEL_W}
      height={PANEL_H}
      style={{ position: 'absolute', left: lay.left, top: lay.top, width: PANEL_W, height: PANEL_H }}
    />
  );
}

const LINE = '#a0a0a0';

export default function App() {
  return (
    <div style={{ position: 'absolute', left: 0, top: 0, width: 1208, height: 1624, overflow: 'hidden', background: '#fff' }}>
      {PANELS.map((_, i) => (
        <Panel key={i} idx={i} />
      ))}
      <div style={{ position: 'absolute', left: 9, top: 11, width: 1199, height: 1.5, background: LINE }} />
      <div style={{ position: 'absolute', left: 9, top: 11, width: 1.5, height: 1613, background: LINE }} />
      <div style={{ position: 'absolute', left: 612, top: 11, width: 1.5, height: 1613, background: LINE }} />
      <div style={{ position: 'absolute', left: 9, top: 547, width: 1199, height: 2, background: LINE }} />
      <div style={{ position: 'absolute', left: 9, top: 1087, width: 1199, height: 2, background: LINE }} />
    </div>
  );
}
